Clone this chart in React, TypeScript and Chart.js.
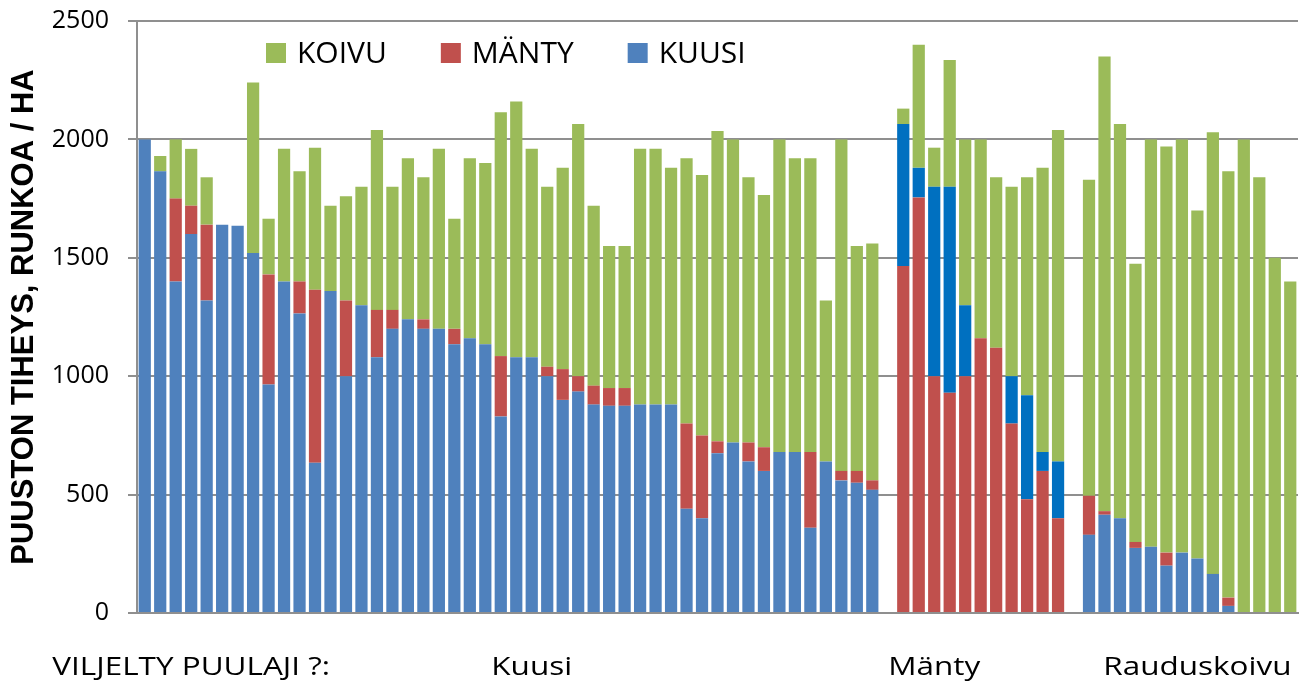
import React, { useEffect, useRef } from "react";
import { Chart, registerables } from "chart.js";

Chart.register(...registerables);

// ---- Data -------------------------------------------------------------
// Group 1: cultivated spruce (Kuusi) – 48 stands
const kuusiGroupKuusi = [
  2000, 1865, 1400, 1600, 1320, 1640, 1635, 1520, 965, 1400, 1265, 635,
  1360, 1000, 1300, 1080, 1200, 1240, 1200, 1200, 1135, 1160, 1135, 830,
  1080, 1080, 1000, 900, 935, 880, 875, 875, 880, 880, 880, 440,
  400, 675, 720, 640, 600, 680, 680, 360, 640, 560, 550, 520,
];
const kuusiGroupManty = [
  0, 0, 350, 120, 320, 0, 0, 0, 465, 0, 135, 730,
  0, 320, 0, 200, 80, 0, 40, 0, 65, 0, 0, 255,
  0, 0, 40, 130, 65, 80, 75, 75, 0, 0, 0, 360,
  350, 50, 0, 80, 100, 0, 0, 320, 0, 40, 50, 40,
];
const kuusiGroupKoivu = [
  0, 65, 250, 240, 200, 0, 0, 720, 235, 560, 465, 600,
  360, 440, 500, 760, 520, 680, 600, 760, 465, 760, 765, 1030,
  1080, 880, 760, 850, 1065, 760, 600, 600, 1080, 1080, 1000, 1120,
  1100, 1310, 1280, 1120, 1065, 1320, 1240, 1240, 680, 1400, 950, 1000,
];

// Group 2: cultivated pine (Mänty) – 11 stands
const mantyGroupManty = [1465, 1755, 1000, 930, 1000, 1160, 1120, 800, 480, 600, 400];
const mantyGroupKuusi = [600, 125, 800, 870, 300, 0, 0, 200, 440, 80, 240];
const mantyGroupKoivu = [65, 520, 165, 535, 700, 840, 720, 800, 920, 1200, 1400];

// Group 3: cultivated silver birch (Rauduskoivu) – 14 stands
const koivuGroupKuusi = [330, 415, 400, 275, 280, 200, 255, 230, 165, 30, 0, 0, 0, 0];
const koivuGroupManty = [165, 15, 0, 25, 0, 55, 0, 0, 0, 35, 0, 0, 0, 0];
const koivuGroupKoivu = [1335, 1920, 1665, 1175, 1720, 1715, 1745, 1470, 1865, 1800, 2000, 1840, 1500, 1400];

// Category (tick) labels: one per bar slot, including the empty slots between groups
const kuusiGroupLabels = [
  "", "", "", "VILJELTY PUULAJI ?:", "", "", "", "", "", "", "", "",
  "", "", "", "", "", "", "", "", "", "", "", "",
  "", "Kuusi", "", "", "", "", "", "", "", "", "", "",
  "", "", "", "", "", "", "", "", "", "", "", "",
];
const mantyGroupLabels = ["", "", "Mänty", "", "", "", "", "", "", "", ""];
const koivuGroupLabels = ["", "", "", "", "", "", "", "Rauduskoivu", "", "", "", "", "", ""];

const yTicks = [0, 500, 1000, 1500, 2000, 2500];
const yTitle = "PUUSTON TIHEYS, RUNKOA / HA";

// ---- Build the table ---------------------------------------------------
const none = (n: number) => Array.from({ length: n }, () => null as number | null);

const categories = [...kuusiGroupLabels, "", ...mantyGroupLabels, "", ...koivuGroupLabels];
const kuusiLight = [...kuusiGroupKuusi, null, ...none(mantyGroupManty.length), null, ...koivuGroupKuusi];
const manty = [...kuusiGroupManty, null, ...mantyGroupManty, null, ...koivuGroupManty];
const kuusiDark = [...none(kuusiGroupKuusi.length), null, ...mantyGroupKuusi, null, ...none(koivuGroupKuusi.length)];
const koivu = [...kuusiGroupKoivu, null, ...mantyGroupKoivu, null, ...koivuGroupKoivu];

const COLORS = {
  koivu: "#9BBB59",
  manty: "#C0504D",
  kuusi: "#4F81BD",
  kuusiDark: "#0070C0",
};

// Legend drawn inside the plot area (as in the reference)
const insideLegend = {
  id: "insideLegend",
  afterDraw(chart: any) {
    const ctx = chart.ctx as CanvasRenderingContext2D;
    const items = chart.data.datasets
      .filter((d: any) => d.showInLegend)
      .slice()
      .reverse();
    ctx.save();
    ctx.font = '30px "Open Sans"';
    ctx.textBaseline = "middle";
    ctx.textAlign = "left";
    let x = 266;
    const y = 53;
    for (const d of items) {
      ctx.fillStyle = d.backgroundColor;
      ctx.fillRect(x, y - 10, 20, 20);
      ctx.fillStyle = "#000";
      ctx.fillText(d.label, x + 31, y + 1);
      x += 31 + ctx.measureText(d.label).width + 54;
    }
    ctx.restore();
  },
};

// Category labels of the x axis, drawn at the axis' own tick positions,
// in a horizontally widened face like the reference.
const wideCategoryLabels = {
  id: "wideCategoryLabels",
  afterDraw(chart: any) {
    const ctx = chart.ctx as CanvasRenderingContext2D;
    const xs = chart.scales.x;
    const labels: string[] = chart.data.labels;
    const baseline = chart.chartArea.bottom + 61.5;
    ctx.save();
    ctx.font = '26px "Open Sans"';
    ctx.fillStyle = "#000";
    ctx.textAlign = "center";
    ctx.textBaseline = "alphabetic";
    labels.forEach((lab, i) => {
      if (!lab) return;
      const x = xs.getPixelForValue(i);
      ctx.save();
      ctx.translate(x, baseline);
      ctx.scale(1.21, 1);
      ctx.fillText(lab, 0, 0);
      ctx.restore();
    });
    ctx.restore();
  },
};

export default function App() {
  const ref = useRef<HTMLCanvasElement>(null);

  useEffect(() => {
    if (!ref.current) return;
    const barProps = { barPercentage: 0.79, categoryPercentage: 1, borderWidth: 0 };
    const chart = new Chart(ref.current, {
      type: "bar",
      data: {
        labels: categories,
        datasets: [
          { label: "KUUSI", data: kuusiLight, backgroundColor: COLORS.kuusi, showInLegend: true, ...barProps } as any,
          { label: "MÄNTY", data: manty, backgroundColor: COLORS.manty, showInLegend: true, ...barProps } as any,
          { label: "KUUSI ", data: kuusiDark, backgroundColor: COLORS.kuusiDark, showInLegend: false, ...barProps } as any,
          { label: "KOIVU", data: koivu, backgroundColor: COLORS.koivu, showInLegend: true, ...barProps } as any,
        ],
      },
      options: {
        responsive: false,
        animation: false,
        layout: { padding: { top: 21, right: 6, left: 0, bottom: 0 } },
        plugins: {
          legend: { display: false },
          tooltip: { enabled: false },
        },
        scales: {
          x: {
            stacked: true,
            offset: true,
            grid: { display: false, drawTicks: false },
            border: { display: true, color: "#8f8f8f", width: 2 },
            ticks: {
              display: false,
              autoSkip: false,
              maxRotation: 0,
              minRotation: 0,
            },
            afterFit: (s: any) => {
              s.height = 73;
              s.paddingLeft = 0;
              s.paddingRight = 0;
            },
          },
          y: {
            stacked: true,
            min: 0,
            max: 2500,
            afterBuildTicks: (s: any) => {
              s.ticks = yTicks.map((v) => ({ value: v }));
            },
            grid: { color: "#8f8f8f", lineWidth: 2, drawTicks: true, tickLength: 9 },
            border: { display: true, color: "#8f8f8f", width: 2 },
            ticks: {
              padding: 19,
              color: "#000",
              font: { family: '"Open Sans"', size: 25 },
              callback: (v: any) => String(v),
            },
            title: {
              display: true,
              text: yTitle,
              color: "#000",
              font: { family: "Liberation Sans", size: 31, weight: "bold" },
              padding: { top: 6, bottom: 0 },
            },
            afterFit: (s: any) => {
              s.width = 137;
              s.paddingTop = 0;
              s.paddingBottom = 0;
            },
          },
        },
      },
      plugins: [insideLegend, wideCategoryLabels],
    });
    return () => chart.destroy();
  }, []);

  return (
    <div style={{ position: "absolute", left: 0, top: 0, width: 1304, height: 686, background: "#fff" }}>
      <canvas ref={ref} width={1304} height={686} />
    </div>
  );
}
